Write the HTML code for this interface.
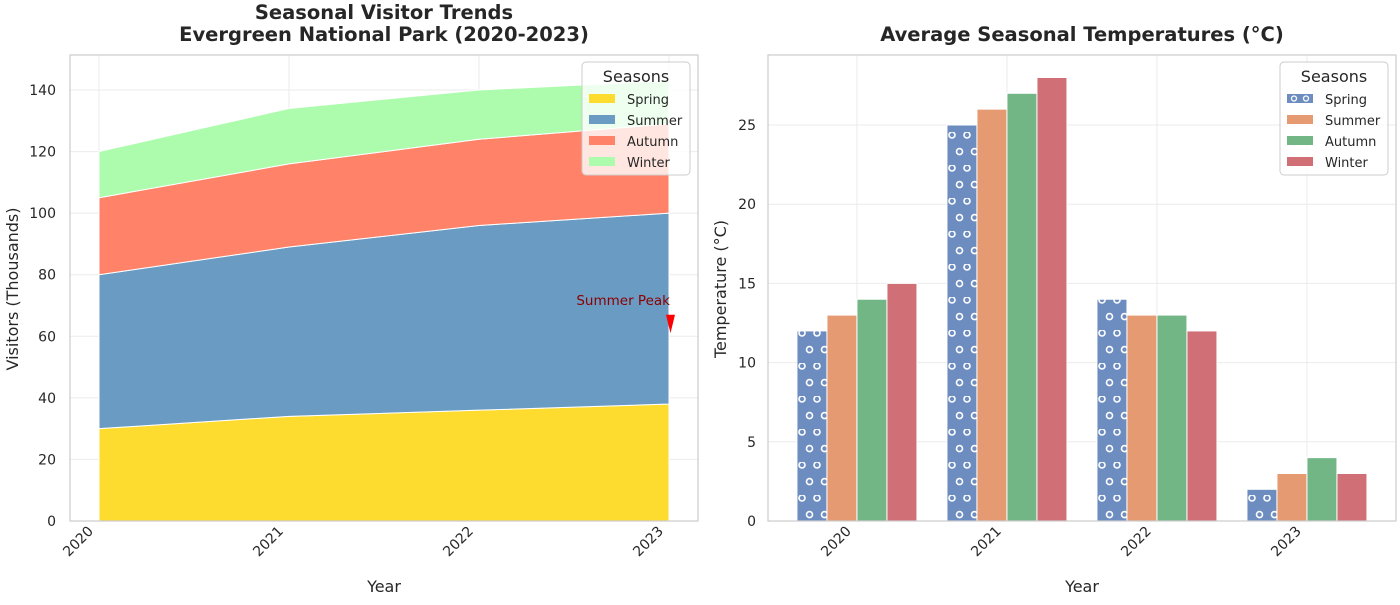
<!DOCTYPE html>
<html><head><meta charset="utf-8"><style>
body{margin:0;background:#fff;font-family:"Liberation Sans","DejaVu Sans",sans-serif;}
svg text{font-family:"DejaVu Sans","Liberation Sans",sans-serif;}
</style></head><body>
<svg id="c" width="1400" height="600" xmlns="http://www.w3.org/2000/svg">
<defs>
<pattern id="hatchO" patternUnits="userSpaceOnUse" width="30" height="33" x="797" y="0">
<circle cx="5" cy="3" r="3" fill="none" stroke="#fff" stroke-width="1.6"/>
<circle cx="20" cy="3" r="3" fill="none" stroke="#fff" stroke-width="1.6"/>
<circle cx="12.5" cy="19.6" r="3" fill="none" stroke="#fff" stroke-width="1.6"/>
<circle cx="27.5" cy="19.6" r="3" fill="none" stroke="#fff" stroke-width="1.6"/>
</pattern>
</defs>
<g id="left"></g><g id="right"></g>
</svg>
<script>
const years=["2020","2021","2022","2023"];
const spring=[30,34,36,38];
const summer=[50,55,60,62];
const autumn=[25,27,28,29];
const winter=[15,18,16,14];
const visTicks=[0,20,40,60,80,100,120,140];
const tSpring=[12,25,14,2];
const tSummer=[13,26,13,3];
const tAutumn=[14,27,13,4];
const tWinter=[15,28,12,3];
const tempTicks=[0,5,10,15,20,25];
const NS="http://www.w3.org/2000/svg";
function mk(p,tag,a,txt){const e=document.createElementNS(NS,tag);for(const k in a)e.setAttribute(k,a[k]);if(txt!==undefined)e.textContent=txt;p.appendChild(e);return e;}
const L=document.getElementById('left'),R=document.getElementById('right');
// Left
const lx=i=>99+i*190, ly=v=>521-v*(431/140);
for(const t of visTicks){const g=mk(L,'line',{x1:70,x2:698,y1:ly(t),y2:ly(t),stroke:'#ebebeb'});

const tl=mk(L,'text',{x:56,y:ly(t)+5,'text-anchor':'end','font-size':14,fill:'#262626'},t);
}
years.forEach((y,i)=>{const g=mk(L,'line',{x1:lx(i),x2:lx(i),y1:55,y2:521,stroke:'#ebebeb'});

const tl=mk(L,'text',{transform:`translate(${lx(i)-5},${532}) rotate(-45)`,'text-anchor':'end','font-size':14,fill:'#262626'},y);
});
const series=[["spring",spring,"#fddc2f"],["summer",summer,"#6a9bc3"],["autumn",autumn,"#ff8269"],["winter",winter,"#adfcad"]];
let base=[0,0,0,0];
for(const [nm,vals,col] of series){const top=base.map((b,i)=>b+vals[i]);
let d='M'+years.map((_,i)=>lx(i)+','+ly(top[i])).join('L');
for(let i=years.length-1;i>=0;i--)d+='L'+lx(i)+','+ly(base[i]);
const p=mk(L,'path',{d:d+'Z',fill:col,stroke:'#fff','stroke-width':1});
base=top;}
mk(L,'rect',{x:70,y:55,width:628,height:466,fill:'none',stroke:'#cccccc','stroke-width':1.2});
const ann=mk(L,'text',{x:670,y:305,'text-anchor':'end','font-size':13.5,fill:'#8b0000'},'Summer Peak');

const ar=mk(L,'path',{d:`M666,${ly(67)} L675,${ly(67)} L670.5,${ly(62)+3}Z`,fill:'red'});

mk(L,'text',{x:384,y:19,'text-anchor':'middle','font-size':19.5,'font-weight':'bold',fill:'#262626'},'Seasonal Visitor Trends');
mk(L,'text',{x:384,y:41,'text-anchor':'middle','font-size':19.5,'font-weight':'bold',fill:'#262626'},'Evergreen National Park (2020-2023)');
mk(L,'text',{x:384,y:592,'text-anchor':'middle','font-size':16,fill:'#262626'},'Year');
mk(L,'text',{transform:'translate(18,289) rotate(-90)','text-anchor':'middle','font-size':16,fill:'#262626'},'Visitors (Thousands)');
const lg=mk(L,'g',{});
mk(lg,'rect',{x:582,y:62,width:108,height:113,rx:4,fill:'#fff','fill-opacity':0.8,stroke:'#ccc'});
mk(lg,'text',{x:636,y:82,'text-anchor':'middle','font-size':16,fill:'#262626'},'Seasons');
["Spring","Summer","Autumn","Winter"].forEach((n,i)=>{mk(lg,'rect',{x:589,y:94+i*21,width:26,height:9,fill:series[i][2]});
mk(lg,'text',{x:627,y:104+i*21,'font-size':13,fill:'#262626'},n);});
// Right
const rx=v=>768+(v+0.593)*150, ry=v=>521-v*(396/25);
for(const t of tempTicks){const g=mk(R,'line',{x1:768,x2:1396,y1:ry(t),y2:ry(t),stroke:'#ebebeb'});

const tl=mk(R,'text',{x:756,y:ry(t)+5,'text-anchor':'end','font-size':14,fill:'#262626'},t);
}
years.forEach((y,i)=>{const g=mk(R,'line',{x1:rx(i),x2:rx(i),y1:55,y2:521,stroke:'#ebebeb'});

const tl=mk(R,'text',{transform:`translate(${rx(i)-5},${532}) rotate(-45)`,'text-anchor':'end','font-size':14,fill:'#262626'},y);
});
const bs=[["spring",tSpring,"#6d8cc0"],["summer",tSummer,"#e59a72"],["autumn",tAutumn,"#73b685"],["winter",tWinter,"#d06f76"]];
bs.forEach(([nm,vals,col],k)=>{vals.forEach((v,i)=>{const x=rx(i-0.4+k*0.2);
const b=mk(R,'rect',{x:x,y:ry(v),width:30,height:ry(0)-ry(v),fill:col,stroke:'#fff','stroke-width':1});

if(k===0)mk(R,'rect',{x:x,y:ry(v),width:30,height:ry(0)-ry(v),fill:'url(#hatchO)'});});});
mk(R,'rect',{x:768,y:55,width:628,height:466,fill:'none',stroke:'#cccccc','stroke-width':1.2});
mk(R,'text',{x:1082,y:41,'text-anchor':'middle','font-size':19.5,'font-weight':'bold',fill:'#262626'},'Average Seasonal Temperatures (°C)');
mk(R,'text',{x:1082,y:592,'text-anchor':'middle','font-size':16,fill:'#262626'},'Year');
mk(R,'text',{transform:'translate(726,289) rotate(-90)','text-anchor':'middle','font-size':16,fill:'#262626'},'Temperature (°C)');
const lg2=mk(R,'g',{});
mk(lg2,'rect',{x:1280,y:62,width:108,height:113,rx:4,fill:'#fff','fill-opacity':0.8,stroke:'#ccc'});
mk(lg2,'text',{x:1334,y:82,'text-anchor':'middle','font-size':16,fill:'#262626'},'Seasons');
["Spring","Summer","Autumn","Winter"].forEach((n,i)=>{mk(lg2,'rect',{x:1287,y:94+i*21,width:26,height:9,fill:bs[i][2]});
if(i===0){mk(lg2,'circle',{cx:1294,cy:98.5,r:2.5,fill:'none',stroke:'#fff','stroke-width':1.3});mk(lg2,'circle',{cx:1306,cy:98.5,r:2.5,fill:'none',stroke:'#fff','stroke-width':1.3});}
mk(lg2,'text',{x:1325,y:104+i*21,'font-size':13,fill:'#262626'},n);});
</script>
</body></html>
